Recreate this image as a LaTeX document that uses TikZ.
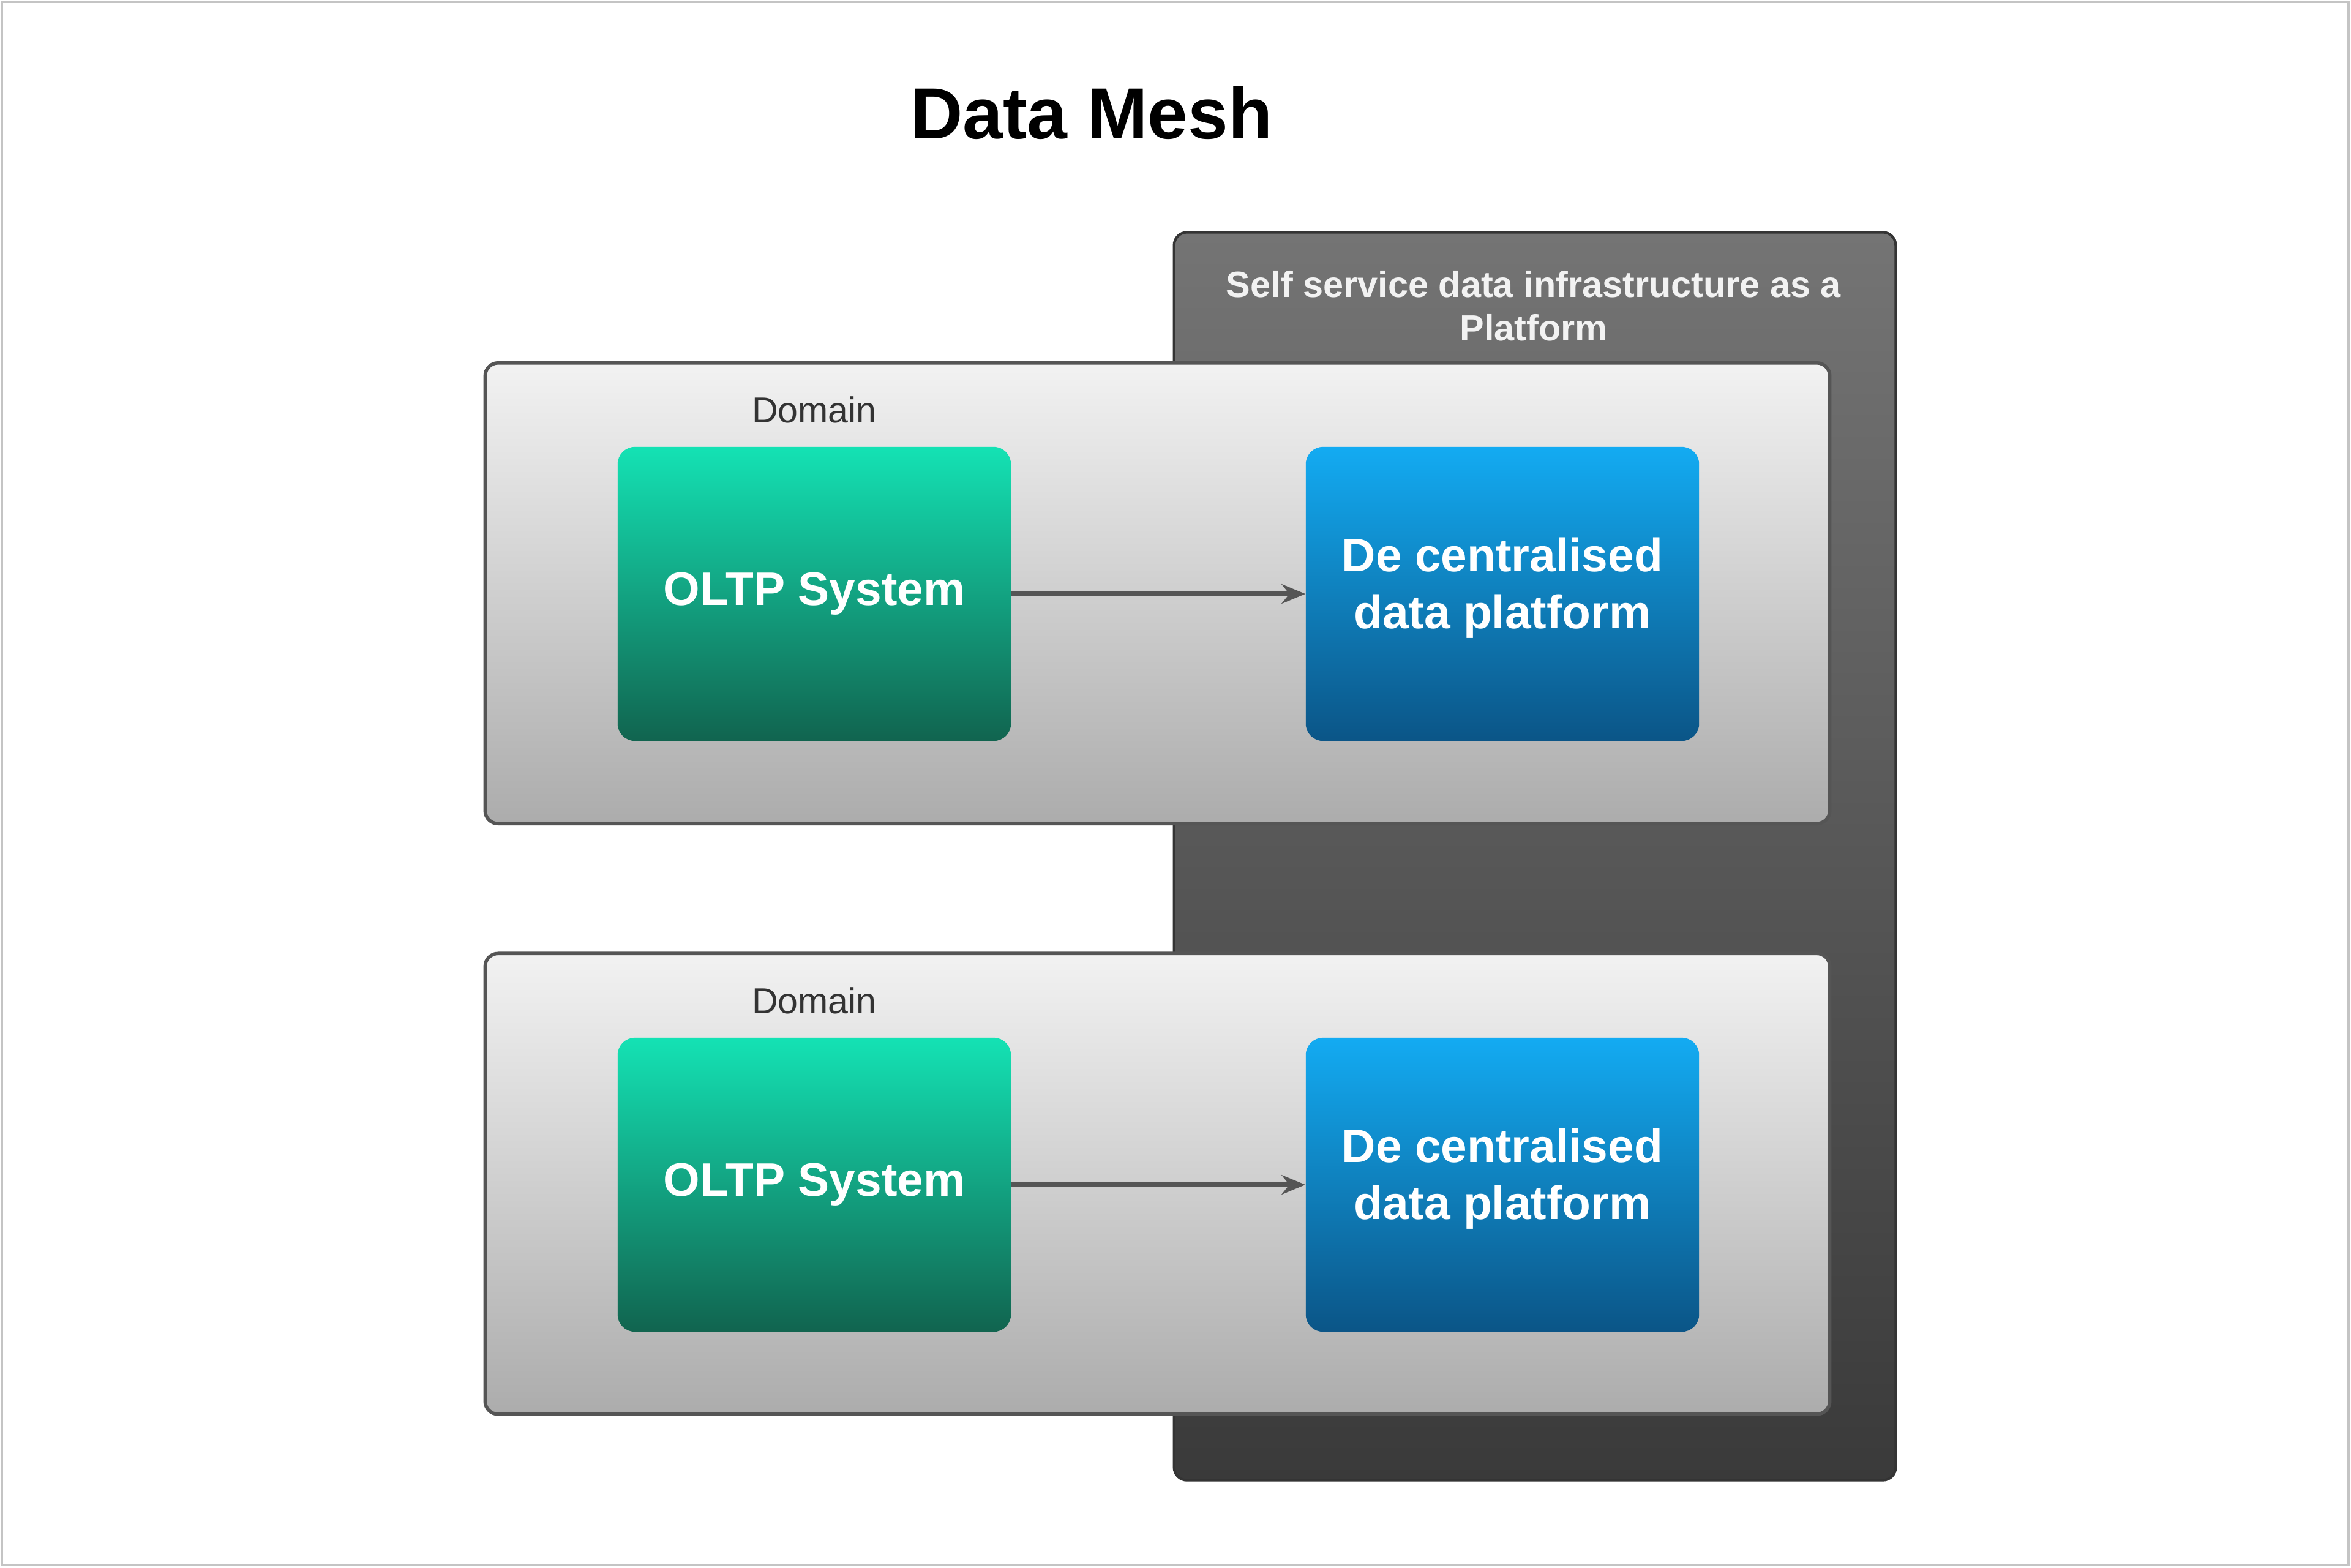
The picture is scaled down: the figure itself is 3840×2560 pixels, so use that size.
\documentclass[tikz,border=0pt]{standalone}
\usepackage{fontspec}
\setmainfont{Liberation Sans}
\usetikzlibrary{arrows.meta}
\definecolor{frameC}{HTML}{C4C4C4}
\definecolor{panelTop}{HTML}{747474}
\definecolor{panelBot}{HTML}{3A3A3A}
\definecolor{domTop}{HTML}{F2F2F2}
\definecolor{domBot}{HTML}{ACACAC}
\definecolor{domEdge}{HTML}{555555}
\definecolor{grTop}{HTML}{14E2B4}
\definecolor{grBot}{HTML}{11644F}
\definecolor{blTop}{HTML}{13ABF2}
\definecolor{blBot}{HTML}{0B5587}
\definecolor{arrowC}{HTML}{555555}
\definecolor{labelC}{HTML}{333333}
\tikzset{
  panelbox/.style={draw=panelBot!90!black, line width=1.2pt, rounded corners=6pt,
    top color=panelTop, bottom color=panelBot, minimum width=11.78cm, minimum height=20.37cm, inner sep=0pt},
  domainbox/.style={draw=domEdge, line width=1.6pt, rounded corners=6pt,
    top color=domTop, bottom color=domBot, minimum width=21.95cm, minimum height=7.52cm, inner sep=0pt},
  oltpbox/.style={rounded corners=8pt, top color=grTop, bottom color=grBot,
    minimum width=6.42cm, minimum height=4.8cm, inner sep=0pt, text=white,
    font=\bfseries\fontsize{21.8}{26.5}\selectfont, align=center},
  platbox/.style={rounded corners=8pt, top color=blTop, bottom color=blBot,
    minimum width=6.42cm, minimum height=4.8cm, inner sep=0pt, text=white,
    font=\bfseries\fontsize{21.8}{26.5}\selectfont, align=center},
  domlabel/.style={text=labelC, font=\fontsize{16.8}{20}\selectfont, inner sep=0pt},
  flow/.style={draw=arrowC, line width=2.2pt, -{Stealth[length=11pt,width=9pt]}}
}
\begin{document}
\begin{tikzpicture}[x=0.01cm,y=-0.01cm]
\useasboundingbox (0,0) rectangle (3840,2560);
\fill[white] (0,0) rectangle (3840,2560);
\draw[frameC, line width=1.3pt] (3,3) rectangle (3836,2556);

\node[font=\bfseries\fontsize{33.6}{40}\selectfont, inner sep=0pt] (title) at (1783,184) {Data Mesh};

\node[panelbox] (panel) at (2507,1398.5) {};
\node[text=white!95!black, font=\bfseries\fontsize{16.9}{20.2}\selectfont, align=center, inner sep=0pt]
  (paneltitle) at (2505,500) {Self service data infrastructure as a\\Platform};

\node[domainbox] (dom1) at (1890.5,969) {};
\node[domainbox] (dom2) at (1890.5,1933.5) {};
\node[domlabel] (dl1) at (1330,669) {Domain};
\node[domlabel] (dl2) at (1330,1634) {Domain};

\node[oltpbox] (oltp1) at (1330,970) {OLTP System};
\node[platbox] (plat1) at (2454,970) {};
\node[platbox] (plat2) at (2454,1935) {};
\node[font=\bfseries\fontsize{21.8}{26.5}\selectfont, text=white, align=center, inner sep=0pt]
  (plat1text) at (2454,960) {De centralised\\data platform};
\node[font=\bfseries\fontsize{21.8}{26.5}\selectfont, text=white, align=center, inner sep=0pt]
  (plat2text) at (2454,1925) {De centralised\\data platform};
\node[oltpbox] (oltp2) at (1330,1935) {OLTP System};

\draw[flow] (oltp1) -- (plat1);
\draw[flow] (oltp2) -- (plat2);
\end{tikzpicture}
\end{document}
